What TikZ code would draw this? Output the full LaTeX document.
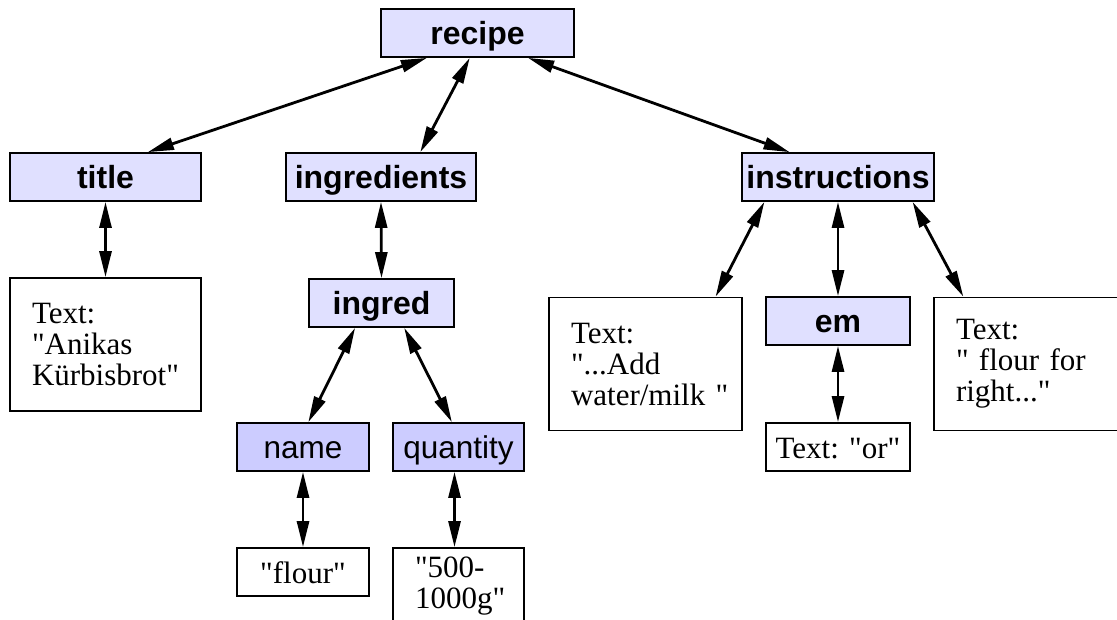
\documentclass[tikz,border=0pt]{standalone}
\usepackage{fontspec}
\setmainfont{Liberation Serif}[Ligatures=TeXOff]
\setsansfont{Liberation Sans}
\usetikzlibrary{arrows.meta,calc}
\definecolor{elemfill}{RGB}{224,224,255}
\definecolor{attrfill}{RGB}{204,204,255}
% straight double quote
\newcommand{\dq}{\symbol{34}}
\begin{document}
\begin{tikzpicture}[x=1pt,y=-1pt,
  box/.style={draw, line width=1.8pt, inner sep=0pt, minimum height=48pt,
    text height=25pt, text depth=3pt},
  elem/.style={box, fill=elemfill, font=\fontsize{32}{32}\selectfont\sffamily\bfseries},
  attr/.style={box, fill=attrfill, font=\fontsize{31.5}{31.5}\selectfont\sffamily},
  txt/.style={box, fill=white, font=\fontsize{31}{31}\selectfont\rmfamily},
  para/.style={draw, line width=1.8pt, fill=white, font=\fontsize{31}{31}\selectfont\rmfamily,
    align=left, inner xsep=22pt, inner ysep=0pt},
  link/.style={line width=2.8pt,
    {Triangle[length=26pt,width=12pt]}-{Triangle[length=26pt,width=12pt]}}]
\useasboundingbox (0,0) rectangle (1117,619);

% element nodes
\node[elem, minimum width=193pt] (recipe) at (477.5,33) {recipe};
\node[elem, minimum width=191pt] (title) at (105.5,177) {title};
\node[elem, minimum width=190pt] (ingredients) at (381,177) {ingredients};
\node[elem, minimum width=192pt] (instructions) at (838,177) {instructions};
\node[elem, minimum width=145pt] (ingred) at (381.5,303) {ingred};
\node[elem, minimum width=144pt] (em) at (838,321) {em};

% attribute nodes
\node[attr, minimum width=132pt] (name) at (303,447) {name};
\node[attr, minimum width=131pt] (quantity) at (458.5,447) {quantity};

% text nodes
\node[para, text width=147pt, minimum height=133pt] (anikas) at (105.5,344.5)
  {Text:\\\dq Anikas\\Kürbisbrot\dq};
\node[txt, minimum width=132pt] (flour) at (303,572) {\dq flour\dq};
\node[para, text width=87pt, minimum height=76pt] (amount) at (458.5,586)
  {\dq 500-\\1000g\dq};
\node[para, text width=149pt, minimum height=133pt] (addwater) at (645.5,364)
  {Text:\\\dq...Add\\water/milk~\dq};
\node[txt, minimum width=144pt] (ortext) at (838,447) {Text: \dq or\dq};
\node[para, text width=149pt, minimum height=133pt] (flourfor) at (1030.5,364)
  {Text:\\\dq~flour for\\right...\dq};

% connectors
\draw[link] ($(recipe.south west)!0.24!(recipe.south east)$) -- ($(title.north west)!0.72!(title.north east)$);
\draw[link] ($(recipe.south west)!0.46!(recipe.south east)$) -- ($(ingredients.north west)!0.705!(ingredients.north east)$);
\draw[link] ($(recipe.south west)!0.76!(recipe.south east)$) -- ($(instructions.north west)!0.25!(instructions.north east)$);
\draw[link] (title.south) -- (anikas.north);
\draw[link] (ingredients.south) -- (ingred.north);
\draw[link] ($(ingred.south west)!0.32!(ingred.south east)$) -- ($(name.north west)!0.54!(name.north east)$);
\draw[link] ($(ingred.south west)!0.655!(ingred.south east)$) -- ($(quantity.north west)!0.45!(quantity.north east)$);
\draw[link] (name.south) -- (flour.north);
\draw[link] ($(quantity.south west)!0.47!(quantity.south east)$) -- ($(amount.north west)!0.47!(amount.north east)$);
\draw[link] ($(instructions.south west)!0.12!(instructions.south east)$) -- ($(addwater.north west)!0.86!(addwater.north east)$);
\draw[link] (instructions.south) -- (em.north);
\draw[link] ($(instructions.south west)!0.885!(instructions.south east)$) -- ($(flourfor.north west)!0.155!(flourfor.north east)$);
\draw[link] (em.south) -- (ortext.north);
\end{tikzpicture}
\end{document}
